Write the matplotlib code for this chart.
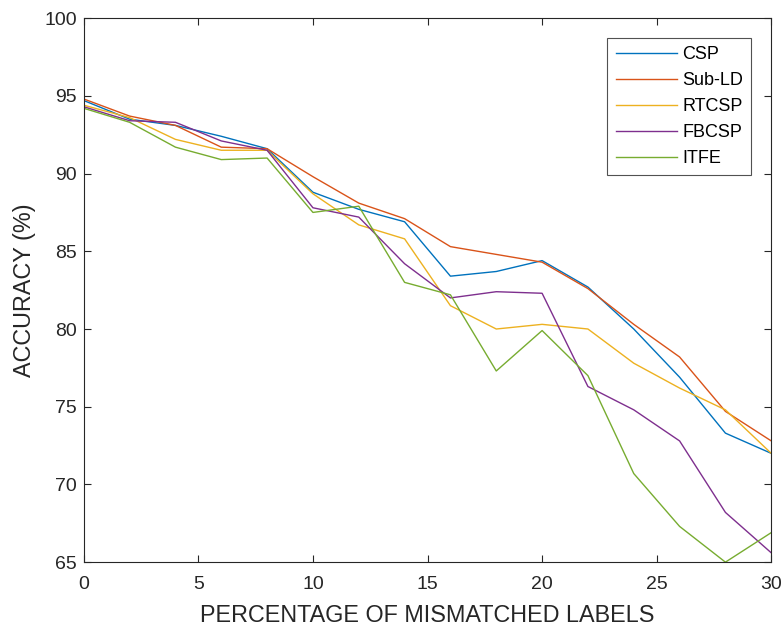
import numpy as np
import matplotlib
matplotlib.use("Agg")
import matplotlib.pyplot as plt

plt.rcParams['font.family'] = ['Liberation Sans', 'DejaVu Sans']

# percentage of mismatched labels
x = [0, 2, 4, 6, 8, 10, 12, 14, 16, 18, 20, 22, 24, 26, 28, 30]

csp    = [94.7, 93.5, 93.1, 92.4, 91.6, 88.8, 87.7, 86.9, 83.4, 83.7, 84.4, 82.7, 80.0, 76.9, 73.3, 72.0]
sub_ld = [94.8, 93.7, 93.1, 91.7, 91.6, 89.8, 88.1, 87.1, 85.3, 84.8, 84.3, 82.6, 80.3, 78.2, 74.7, 72.8]
rtcsp  = [94.4, 93.6, 92.2, 91.5, 91.5, 88.7, 86.7, 85.8, 81.5, 80.0, 80.3, 80.0, 77.8, 76.2, 74.8, 72.0]
fbcsp  = [94.3, 93.4, 93.3, 92.1, 91.5, 87.8, 87.2, 84.2, 82.0, 82.4, 82.3, 76.3, 74.8, 72.8, 68.2, 65.6]
itfe   = [94.2, 93.3, 91.7, 90.9, 91.0, 87.5, 87.9, 83.0, 82.2, 77.3, 79.9, 77.0, 70.7, 67.3, 65.0, 66.9]

names = ['CSP', 'Sub-LD', 'RTCSP', 'FBCSP', 'ITFE']
colors = ['#0072BD', '#D95319', '#EDB120', '#7E2F8E', '#77AC30']

fig = plt.figure(figsize=(7.83, 6.26), dpi=100)
ax = fig.add_axes([0.107, 0.102, 0.878, 0.869])

for y, name, c in zip([csp, sub_ld, rtcsp, fbcsp, itfe], names, colors):
    ax.plot(x, y, color=c, linewidth=1.0, label=name)

ax.set_xlim(0, 30)
ax.set_ylim(65, 100)
ax.set_xticks([0, 5, 10, 15, 20, 25, 30])
ax.set_yticks([65, 70, 75, 80, 85, 90, 95, 100])

ax.tick_params(direction='in', top=True, right=True, labelsize=14,
               colors='#262626', length=5, width=0.8)
ax.tick_params(axis='x', pad=10)
ax.tick_params(axis='y', pad=5)
for s in ax.spines.values():
    s.set_color('#262626')
    s.set_linewidth(0.8)

ax.set_xlabel('PERCENTAGE OF MISMATCHED LABELS', fontsize=16.8, color='#262626', labelpad=8)
ax.set_ylabel('ACCURACY (%)', fontsize=16.8, color='#262626', labelpad=6)

leg = ax.legend(loc='upper right', fontsize=13, frameon=True, fancybox=False,
                borderaxespad=1.1, handlelength=3.4, handletextpad=0.3,
                labelspacing=0.5, borderpad=0.45)
leg.get_frame().set_edgecolor('#262626')
leg.get_frame().set_linewidth(0.8)

fig.savefig('out.png', dpi=100)
